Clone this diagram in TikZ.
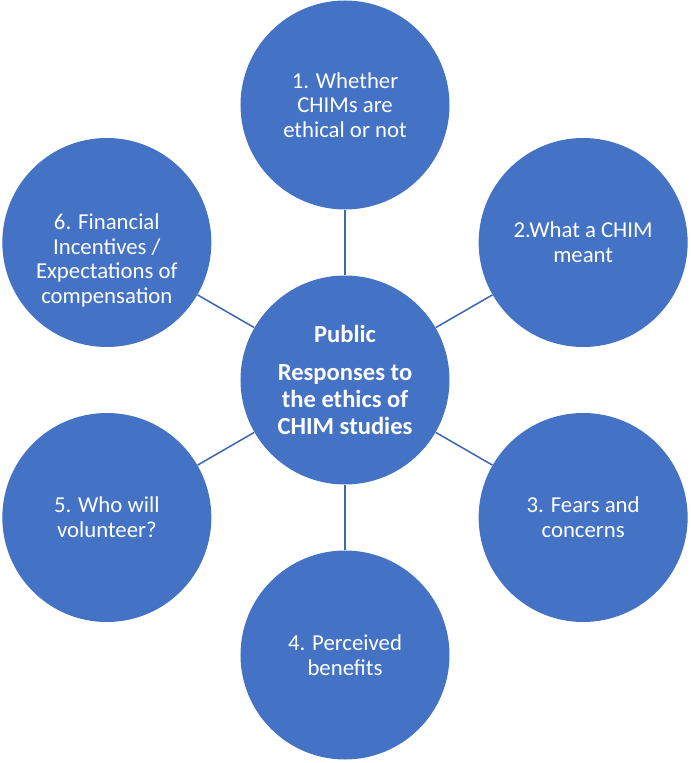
\documentclass[tikz,border=0pt]{standalone}
\usepackage{fontspec}
\setmainfont{Carlito}
\definecolor{topicblue}{HTML}{4472C4}
\definecolor{linkblue}{HTML}{3F68B2}
\tikzset{
  topic/.style={circle, fill=topicblue, minimum size=5.225cm, inner sep=0pt, text=white, align=center, font=\fontsize{16.2}{17.6}\selectfont},
  hub/.style={topic, font=\bfseries\fontsize{17.5}{19.3}\selectfont},
  link/.style={linkblue, line width=1.1pt},
}
\begin{document}
\begin{tikzpicture}
	\useasboundingbox (-8.625,-9.575) rectangle (8.625,9.5);
	\node[hub] (hub) at (0,0) {Public\\[8pt]Responses to\\the ethics of\\CHIM studies};
	\node[topic] (ethical) at (90:6.875) {1. Whether\\CHIMs are\\ethical or not};
	\node[topic] (meant) at (30:6.875) {2.What a CHIM\\meant};
	\node[topic] (fears) at (-30:6.875) {3. Fears and\\concerns};
	\node[topic] (benefits) at (-90:6.875) {4. Perceived\\benefits};
	\node[topic] (volunteer) at (210:6.875) {5. Who will\\volunteer?};
	\node[topic, label={[text=white, align=center, font=\fontsize{16.2}{17.6}\selectfont, yshift=-0.45cm]center:{6. Financial\\Incentives /\\Expectations of\\compensation}}] (finance) at (150:6.875) {};
	\foreach \n in {ethical,meant,fears,benefits,volunteer,finance}
		\draw[link] (hub) -- (\n);
\end{tikzpicture}
\end{document}
